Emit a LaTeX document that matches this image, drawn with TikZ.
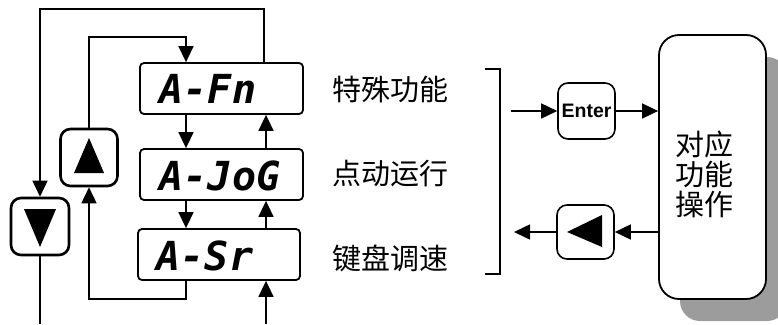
\documentclass[tikz,border=0pt]{standalone}
\usepackage{fontspec}
\newfontfamily\cjk{Noto Sans CJK SC}
\newfontfamily\seg{DejaVu Sans Mono}
\newfontfamily\arialf{Liberation Sans}
\usetikzlibrary{arrows.meta,shadows,calc}
\definecolor{shadowgray}{HTML}{9C9C9C}
\begin{document}
\begin{tikzpicture}[x=1pt,y=-1pt,
  line width=1.6pt,
  arr/.style={-{Triangle[length=16pt,width=15pt]}},
  disp/.style={draw, line width=1.8pt, rounded corners=4pt, minimum width=163pt, minimum height=51pt, inner sep=0pt},
  segtxt/.style={font=\seg\bfseries\itshape\fontsize{40}{40}\selectfont, inner sep=0pt, anchor=base west},
  keybox/.style={draw, line width=2.6pt, rounded corners=10pt, minimum width=57pt, minimum height=57pt, inner sep=0pt},
  softkey/.style={draw, line width=1.6pt, rounded corners=10pt, minimum width=57pt, minimum height=56pt, inner sep=0pt},
  label/.style={font=\cjk\fontsize{29}{30}\selectfont, inner sep=0pt}
]
\clip (0,0) rectangle (778,324);
\useasboundingbox (0,0) rectangle (778,324);

% display boxes
\node[disp] (fn)  at (221.5,88.5) {};
\node[disp] (jog) at (221.5,174.5) {};
\node[disp, minimum width=162pt] (sr)  at (219,254.5) {};
\node[segtxt] (tfn)  at (159,103) {A-Fn};
\node[segtxt] (tjog) at (159,190) {A-JoG};
\node[segtxt] (tsr)  at (156,270) {A-Sr};

% Up / Down keys
\node[keybox] (up)   at (89,157.5) {};
\node[keybox, minimum width=58pt] (down) at (40,226.5) {};
\fill (89,138) -- (104,173) -- (74,173) -- cycle;
\fill (24,209) -- (56,209) -- (40,247) -- cycle;

% helper coordinates
\coordinate (xa) at (186,0);
\coordinate (xb) at (266,0);
\coordinate (bin) at (266,324);
\coordinate (dout) at (40,324);

% outer loop
\draw[arr] ([xshift=-40pt]fn.north east) -- ++(0,-53) -| (down.north);
% inner loop
\draw[arr] (up.north) -- ++(0,-91) -| (fn.north -| xa);
% between displays
\draw[arr] (fn.south -| xa) -- (jog.north -| xa);
\draw[arr] (jog.south -| xa) -- (sr.north -| xa);
\draw[arr] (jog.north -| xb) -- (fn.south -| xb);
\draw[arr] (sr.north -| xb) -- (jog.south -| xb);
% bottom loop
\draw[arr] (sr.south -| xa) -- ++(0,18) -| (up.south);
\draw[arr] (bin) -- (sr.south -| bin);
\draw (down.south) -- (dout);

% labels
\node[label] (l1) at (390.5,89.5) {特殊功能};
\node[label] (l2) at (390.5,174) {点动运行};
\node[label] (l3) at (390.5,258) {键盘调速};

% bracket
\draw (485,69) -- (500,69) -- (500,274) -- (485,274);

% right side
\node[draw, line width=1.8pt, rounded corners=20pt, minimum width=107pt, minimum height=264pt, inner sep=0pt,
      drop shadow={shadow xshift=21pt, shadow yshift=-22pt, fill=shadowgray, opacity=1}, fill=white] (big) at (712.5,167) {};
\node[label, align=center] (bigtxt) at (704,174) {对应\\功能\\操作};

\node[softkey, font=\arialf\bfseries\fontsize{19.5}{19.5}\selectfont] (enter) at (586.5,111) {Enter};
\node[softkey, minimum height=54pt] (lbox) at (585.5,232) {};
\fill (567,232) -- (602,215) -- (602,247) -- cycle;

\coordinate (ein) at (511,111);
\coordinate (lout) at (514,232);
\draw[arr] (ein) -- (enter.west);
\draw[arr] (enter.east) -- (big.west |- enter);
\draw[arr] (big.west |- lbox) -- (lbox.east);
\draw[arr] (lbox.west) -- (lout);
\end{tikzpicture}
\end{document}
